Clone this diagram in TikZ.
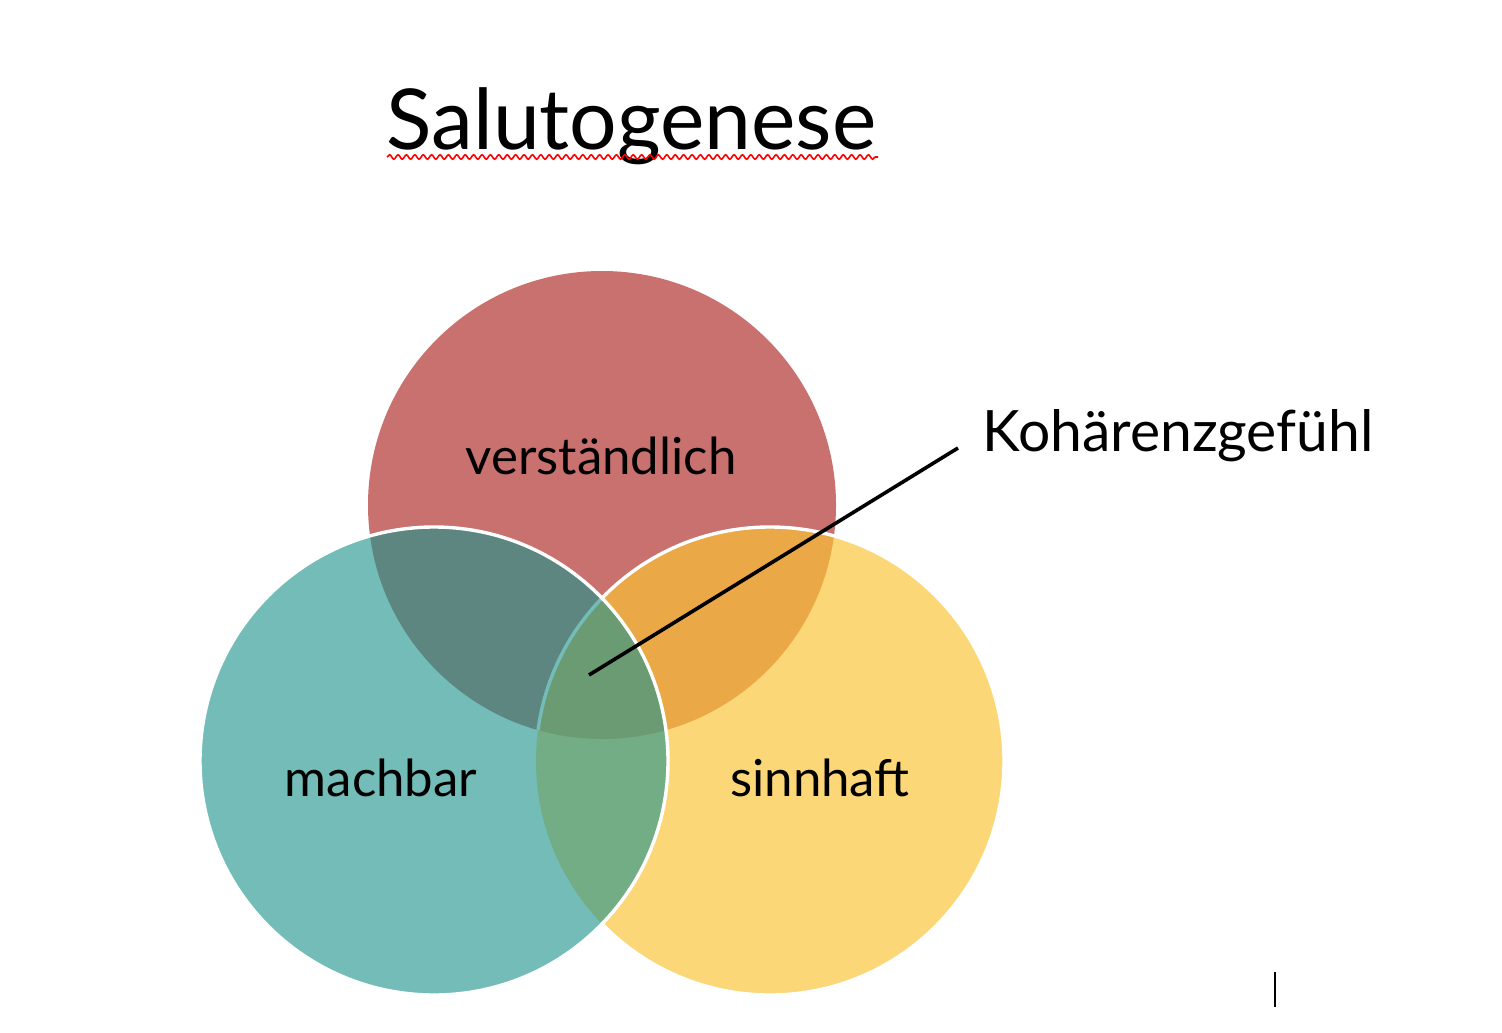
\documentclass[tikz,border=0pt]{standalone}
\usepackage{fontspec}
\setmainfont{Lato}
\usetikzlibrary{decorations.pathmorphing}
\definecolor{cred}{HTML}{C8716F}
\definecolor{cyel}{HTML}{FCD778}
\definecolor{corange}{HTML}{EAA847}
\definecolor{cteal}{HTML}{73BCB8}
\definecolor{cdteal}{HTML}{5E8681}
\definecolor{cgreen}{HTML}{72AD85}
\definecolor{ccenter}{HTML}{6B9B72}
\tikzset{
  lbl/.style={inner sep=0pt, font=\fontsize{25.5}{30}\selectfont, text=black},
  biglbl/.style={inner sep=0pt, font=\fontsize{28.5}{32}\selectfont, text=black},
  ttl/.style={inner sep=0pt, font=\fontsize{42}{50}\selectfont, text=black},
  rim/.style={white, line width=1.7pt},
  leader/.style={black, line width=1.8pt},
  squiggle/.style={red, line width=0.8pt, decorate, decoration={snake, amplitude=1.1pt, segment length=4.2pt}}
}
\begin{document}
\begin{tikzpicture}[x=0.5pt,y=-0.5pt]
\useasboundingbox (0,0) rectangle (1502,1032);
\fill[white] (0,0) rectangle (1502,1032);
\coordinate (cr) at (602,505);
\coordinate (ct) at (434,761);
\coordinate (cy) at (770,761);
\def\RR{117pt}
% red
\fill[cred] (cr) circle[radius=\RR];
% yellow
\fill[cyel] (cy) circle[radius=\RR];
\begin{scope}
  \clip (cr) circle[radius=\RR];
  \fill[corange] (cy) circle[radius=\RR];
\end{scope}
\draw[rim] (cy) circle[radius=\RR];
% teal
\fill[cteal] (ct) circle[radius=\RR];
\begin{scope}
  \clip (cr) circle[radius=\RR];
  \fill[cdteal] (ct) circle[radius=\RR];
\end{scope}
\begin{scope}
  \clip (cy) circle[radius=\RR];
  \fill[cgreen] (ct) circle[radius=\RR];
\end{scope}
\begin{scope}
  \clip (cr) circle[radius=\RR];
  \clip (cy) circle[radius=\RR];
  \fill[ccenter] (ct) circle[radius=\RR];
\end{scope}
\begin{scope}
  \clip (ct) circle[radius=\RR];
  \clip (cr) circle[radius=\RR];
  \draw[cteal, line width=1.7pt] (cy) circle[radius=\RR];
\end{scope}
\draw[rim] (ct) circle[radius=\RR];

% texts
\node[ttl, anchor=base west] (title) at (386,150) {Salutogenese};
\coordinate (sqa) at (387,157);
\coordinate (sqb) at (878,157);
\draw[squiggle] (sqa) -- (sqb);

\node[lbl, anchor=base] (verst) at (601,474) {verständlich};
\node[lbl, anchor=base] (mach) at (381,796) {machbar};
\node[lbl, anchor=base] (sinn) at (820,796) {sinnhaft};
\node[biglbl, anchor=base west] (koh) at (982,451) {Kohärenzgefühl};

\coordinate (kin) at (589,675);
\coordinate (kout) at (958,448);
\draw[leader] (kin) -- (kout);

% text cursor
\coordinate (cura) at (1275,972);
\coordinate (curb) at (1275,1007);
\draw[black, line width=1pt] (cura) -- (curb);
\end{tikzpicture}
\end{document}
